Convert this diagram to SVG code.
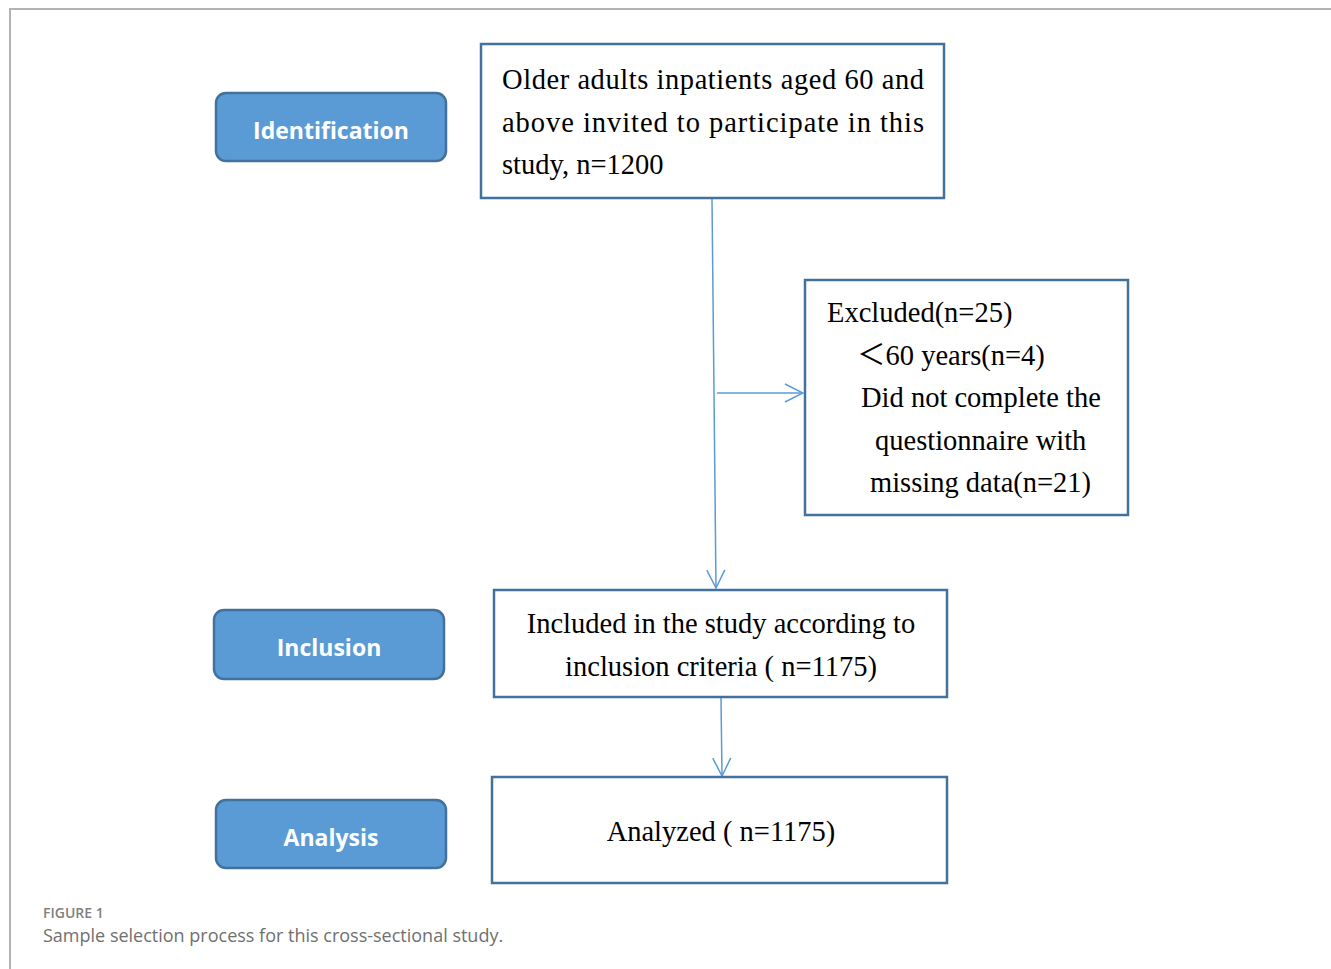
<svg xmlns="http://www.w3.org/2000/svg" width="1331" height="969" viewBox="0 0 1331 969">
<style>
.frame{fill:none;stroke:#b3b3b3;stroke-width:2}
.lab{fill:#5B9BD5;stroke:#41719C;stroke-width:2.5}
.labt{font-family:"Open Sans","Lato",sans-serif;font-weight:bold;font-size:23px;fill:#ffffff;text-anchor:middle}
.box{fill:#ffffff;stroke:#41719C;stroke-width:2.5}
.t{font-family:"Liberation Serif","Times New Roman","Noto Sans CJK SC",serif;font-size:28.5px;fill:#000}
.c{text-anchor:middle}
.conn{stroke:#5B9BD5;stroke-width:1.5;fill:none}
.cap1{font-family:"Open Sans","Lato",sans-serif;font-size:14px;fill:#808080;font-weight:600}
.cap2{font-family:"Open Sans","Lato",sans-serif;font-size:18px;fill:#707070}
</style>
<defs>
<marker id="arr" viewBox="0 0 20 20" refX="19" refY="10" markerWidth="20" markerHeight="20" markerUnits="userSpaceOnUse" orient="auto">
<path d="M1,1 L19,10 L1,19" fill="none" stroke="#5B9BD5" stroke-width="1.5"/>
</marker>
</defs>
<rect width="1331" height="969" fill="#ffffff"/>
<path class="frame" d="M1331,9 H10 V969"/>

<g id="connectors">
<line class="conn" x1="712" y1="199" x2="716" y2="588" marker-end="url(#arr)"/>
<line class="conn" x1="717" y1="393" x2="803" y2="393" marker-end="url(#arr)"/>
<line class="conn" x1="721" y1="698" x2="722" y2="776" marker-end="url(#arr)"/>
</g>

<g id="identification">
<rect class="lab" x="216" y="93" width="230" height="68" rx="10"/>
<text class="labt" x="331" y="139">Identification</text>
</g>
<g id="inclusion">
<rect class="lab" x="214" y="610" width="230" height="69" rx="10"/>
<text class="labt" x="329" y="656">Inclusion</text>
</g>
<g id="analysis">
<rect class="lab" x="216" y="800" width="230" height="68" rx="10"/>
<text class="labt" x="331" y="846">Analysis</text>
</g>

<g id="invited">
<rect class="box" x="481" y="44" width="463" height="154"/>
<text class="t" x="502" y="89" textLength="422" lengthAdjust="spacing">Older adults inpatients aged 60 and</text>
<text class="t" x="502" y="132" textLength="422" lengthAdjust="spacing">above invited to participate in this</text>
<text class="t" x="502" y="174">study, n=1200</text>
</g>

<g id="excluded">
<rect class="box" x="805" y="280" width="323" height="235"/>
<text class="t" x="827" y="322">Excluded(n=25)</text>
<text class="t" x="857" y="365">＜60 years(n=4)</text>
<text class="t" x="861" y="407">Did not complete the</text>
<text class="t" x="875" y="450">questionnaire with</text>
<text class="t" x="870" y="492">missing data(n=21)</text>
</g>

<g id="included">
<rect class="box" x="494" y="590" width="453" height="107"/>
<text class="t c" x="721" y="633">Included in the study according to</text>
<text class="t c" x="721" y="676">inclusion criteria ( n=1175)</text>
</g>

<g id="analyzed">
<rect class="box" x="492" y="777" width="455" height="106"/>
<text class="t c" x="721" y="841">Analyzed ( n=1175)</text>
</g>

<text class="cap1" x="43" y="918">FIGURE 1</text>
<text class="cap2" x="43" y="942">Sample selection process for this cross-sectional study.</text>
</svg>
